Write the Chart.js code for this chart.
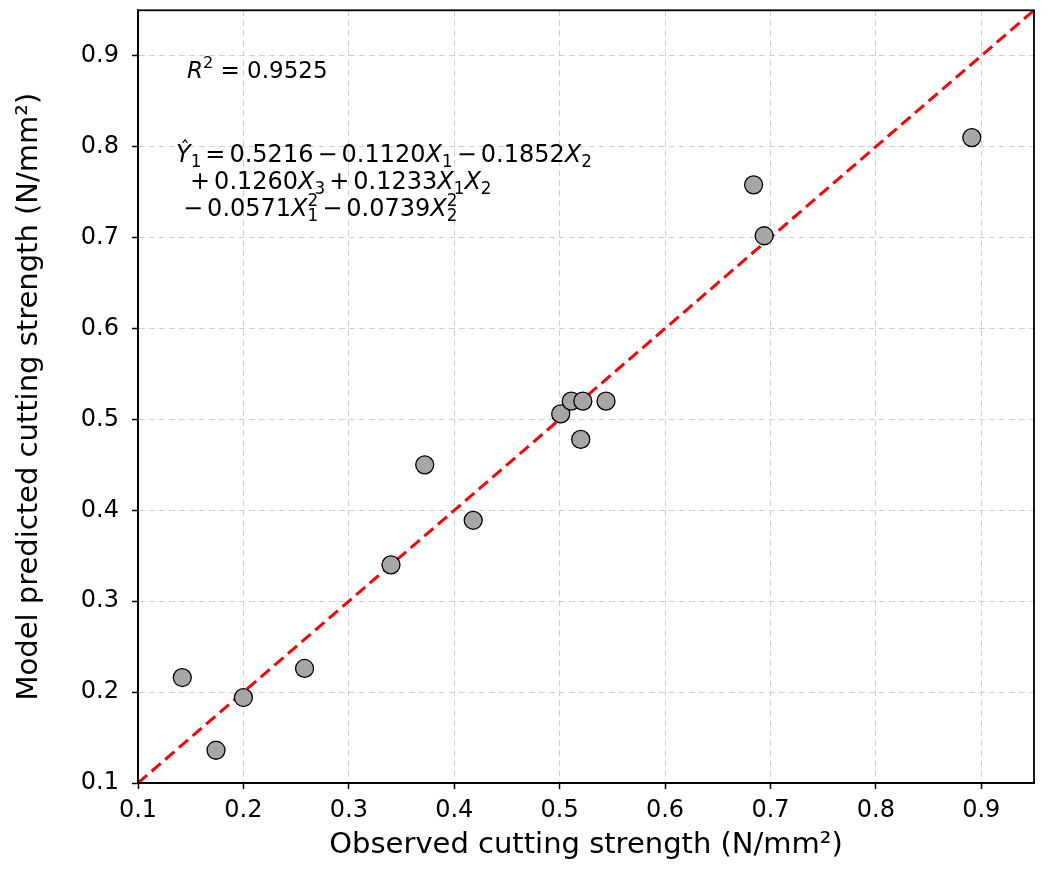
<!DOCTYPE html>
<html><head><meta charset="utf-8">
<script src="https://cdn.jsdelivr.net/npm/chart.js@4.4.1/dist/chart.umd.min.js"></script>
<style>html,body{margin:0;padding:0;background:#fff}</style>
</head><body>
<canvas id="c" width="1053" height="874"></canvas>
<script>
const observed  = [0.142, 0.174, 0.200, 0.258, 0.340, 0.372, 0.418, 0.501, 0.511, 0.522, 0.520, 0.544, 0.684, 0.694, 0.891];
const predicted = [0.216, 0.136, 0.194, 0.226, 0.340, 0.450, 0.389, 0.506, 0.520, 0.520, 0.478, 0.520, 0.758, 0.702, 0.810];
const tickValues = [0.1, 0.2, 0.3, 0.4, 0.5, 0.6, 0.7, 0.8, 0.9];
const axisRange = [0.1, 0.95];
const xTitle = 'Observed cutting strength (N/mm²)';
const yTitle = 'Model predicted cutting strength (N/mm²)';
const r2Value = '0.9525';

const FONT = '"DejaVu Sans", sans-serif';

function drawRich(ctx, x, y, segs, size, gap) {
  let cx = x;
  for (const s of segs) {
    if (s.subsup) {
      const fs = size * 0.7;
      ctx.font = fs + 'px ' + FONT;
      ctx.fillText(s.sup, cx, y - size * 0.42);
      ctx.fillText(s.sub, cx, y + size * 0.22);
      cx += Math.max(ctx.measureText(s.sup).width, ctx.measureText(s.sub).width);
      continue;
    }
    if (s.op) {
      ctx.font = size + 'px ' + FONT;
      cx += s.lead ? 0 : gap;
      ctx.fillText(s.op, cx, y);
      cx += ctx.measureText(s.op).width + gap;
      continue;
    }
    const fs = s.script ? size * 0.7 : size;
    ctx.font = (s.it ? 'italic ' : '') + fs + 'px ' + FONT;
    const dy = s.script === 'sub' ? size * 0.22 : s.script === 'sup' ? -size * 0.42 : 0;
    ctx.fillText(s.t, cx, y + dy);
    const w = ctx.measureText(s.t).width;
    if (s.hat) {
      ctx.save();
      ctx.font = (fs * 0.8) + 'px ' + FONT;
      ctx.textAlign = 'center';
      ctx.fillText('\u02C6', cx + w * 0.62, y - size * 0.3);
      ctx.restore();
    }
    cx += w;
  }
}

const annot = {
  id: 'annot',
  afterDraw(chart) {
    const ctx = chart.ctx, a = chart.chartArea;
    ctx.save();
    ctx.strokeStyle = '#000';
    ctx.lineWidth = 1.8;
    ctx.strokeRect(a.left, a.top, a.right - a.left, a.bottom - a.top);
    ctx.fillStyle = '#000';
    ctx.textBaseline = 'alphabetic';
    ctx.textAlign = 'left';
    drawRich(ctx, 187, 78, [{t:'R', it:true}, {t:'2', script:'sup'}, {t:' = ' + r2Value}], 23, 0);
    const fs = 24, g = 4;
    drawRich(ctx, 176, 162, [
      {t:'Y', it:true, hat:true}, {t:'1', script:'sub'}, {op:'='}, {t:'0.5216'}, {op:'\u2212'}, {t:'0.1120'},
      {t:'X', it:true}, {t:'1', script:'sub'}, {op:'\u2212'}, {t:'0.1852'}, {t:'X', it:true}, {t:'2', script:'sub'}
    ], fs, g);
    drawRich(ctx, 190, 189, [
      {op:'+', lead:true}, {t:'0.1260'}, {t:'X', it:true}, {t:'3', script:'sub'}, {op:'+'}, {t:'0.1233'},
      {t:'X', it:true}, {t:'1', script:'sub'}, {t:'X', it:true}, {t:'2', script:'sub'}
    ], fs, g);
    drawRich(ctx, 183, 216, [
      {op:'\u2212', lead:true}, {t:'0.0571'}, {t:'X', it:true}, {subsup:true, sup:'2', sub:'1'},
      {op:'\u2212'}, {t:'0.0739'}, {t:'X', it:true}, {subsup:true, sup:'2', sub:'2'}
    ], fs, g);
    ctx.restore();
  }
};

function axisOpts(title, isX) {
  return {
    type: 'linear',
    min: axisRange[0],
    max: axisRange[1],
    afterBuildTicks(scale) { scale.ticks = tickValues.map(v => ({value: v})); },
    afterFit(scale) {
      if (isX) { scale.height = 91; scale.paddingLeft = 0; scale.paddingRight = 0; }
      else { scale.width = 138; scale.paddingTop = 0; scale.paddingBottom = 0; }
    },
    ticks: {
      color: '#000',
      font: {family: FONT, size: 24},
      padding: isX ? 7 : 13,
      autoSkip: false,
      maxRotation: 0,
      callback: v => Number(v).toFixed(1)
    },
    grid: {
      color: 'rgba(200,200,200,0.85)',
      lineWidth: 1,
      tickColor: '#000',
      tickLength: 6,
      tickWidth: 1.5,
      drawTicks: true
    },
    border: {display: true, color: '#000', width: 1.8, dash: [6, 4]},
    title: {
      display: true,
      text: title,
      color: '#000',
      font: {family: FONT, size: 29},
      padding: isX ? {top: 0, bottom: 11} : {top: 12, bottom: 0}
    }
  };
}

new Chart(document.getElementById('c'), {
  type: 'scatter',
  data: {
    datasets: [
      {
        label: 'Data',
        data: observed.map((x, i) => ({x: x, y: predicted[i]})),
        backgroundColor: '#a6a6a6',
        borderColor: '#000',
        borderWidth: 1.3,
        pointRadius: 9,
        pointHoverRadius: 9
      },
      {
        label: 'y = x',
        type: 'line',
        data: [{x: axisRange[0], y: axisRange[0]}, {x: axisRange[1], y: axisRange[1]}],
        borderColor: '#ff0000',
        borderWidth: 3,
        borderDash: [12, 6],
        pointRadius: 0,
        fill: false
      }
    ]
  },
  options: {
    responsive: false,
    animation: false,
    events: [],
    layout: {padding: {left: 0, right: 19, top: 10, bottom: 0}},
    plugins: {legend: {display: false}, tooltip: {enabled: false}},
    scales: {
      x: axisOpts(xTitle, true),
      y: axisOpts(yTitle, false)
    }
  },
  plugins: [annot]
});
</script>
</body></html>
